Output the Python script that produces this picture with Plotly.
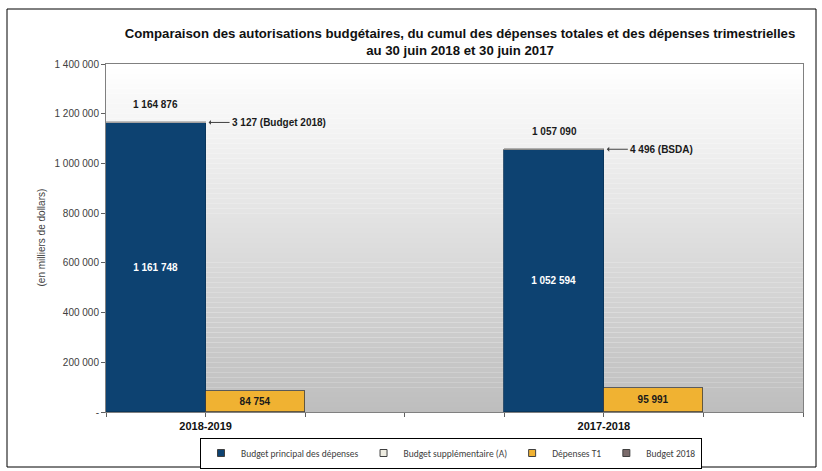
#!/usr/bin/env python3
# -*- coding: utf-8 -*-
"""Budget authorities vs Q1 spending, 2018-2019 and 2017-2018"""

import plotly.graph_objects as go

# data (en milliers de dollars)
categories = ["2018-2019", "2017-2018"]
budget_principal = [1161748, 1052594]
budget_supp = [0, 4496]
budget_2018 = [3127, 0]
depenses_t1 = [84754, 95991]
totals = [1164876, 1057090]
note_labels = ["3 127 (Budget 2018)", "4 496 (BSDA)"]

y_ticks = [0, 200000, 400000, 600000, 800000, 1000000, 1200000, 1400000]


def fmt(v):
    """French style thousands separator"""
    return f"{v:,}".replace(",", " ")


# each year takes 4 slots: principal bar, T1 bar, then 2 empty slots
x_main = [i * 4 + 0.5 for i in range(len(categories))]
x_t1 = [i * 4 + 1.5 for i in range(len(categories))]

FONT = "Liberation Sans, Arial, sans-serif"
LEG_FONT = "Carlito, Lato, Liberation Sans, sans-serif"
W, H = 822, 471

series = [
    # name, x, y, fill, edge, label colour
    ("Budget principal des dépenses", x_main, budget_principal, "#0d4271", "#0a3358", "white"),
    ("Budget supplémentaire (A)", x_main, budget_supp, "#eeece1", "#6f6f6f", None),
    ("Dépenses T1", x_t1, depenses_t1, "#f0b232", "#404040", "#1a1a1a"),
    ("Budget 2018", x_main, budget_2018, "#7b6b6b", "#b0b0b0", None),
]

fig = go.Figure()

for name, xs, ys, fill, edge, lab in series:
    bar = go.Bar(x=xs, y=ys, width=1, name=name, showlegend=False,
                 marker=dict(color=fill, line=dict(color=edge, width=0.8)),
                 hoverinfo="skip")
    if lab:
        bar.update(text=[fmt(v) for v in ys], textposition="inside",
                   insidetextanchor="middle",
                   textfont=dict(color=lab, size=10, family=FONT, weight="bold"))
    else:
        bar.update(textposition="none")
    fig.add_trace(bar)

# small square legend keys like the original
for name, xs, ys, fill, edge, lab in series:
    fig.add_trace(go.Scatter(x=[None], y=[None], mode="markers", name=name,
                             marker=dict(symbol="square", size=7, color=fill,
                                         line=dict(color="#404040", width=1)),
                             hoverinfo="skip"))

# totals above the bars and arrow notes on the right edge
for i in range(len(categories)):
    fig.add_annotation(x=x_main[i], y=totals[i], text="<b>" + fmt(totals[i]) + "</b>",
                       showarrow=False, yshift=18,
                       font=dict(size=10, family=FONT, color="#1a1a1a"))
    fig.add_annotation(x=x_main[i] + 0.53, y=totals[i], text="<b>" + note_labels[i] + "</b>",
                       showarrow=True, ax=21, ay=0, xanchor="left",
                       arrowhead=1, arrowsize=0.8, arrowwidth=1, arrowcolor="#404040",
                       font=dict(size=10, family=FONT, color="#1a1a1a"))

# y axis title
fig.add_annotation(x=(33 - 106) / 697, y=0.5, xref="paper", yref="paper",
                   text="(en milliers de dollars)", textangle=-90, showarrow=False,
                   font=dict(size=10, family=FONT, color="#404040"))

# gradient background of the plot area (white on top, grey at the bottom)
n_bands = 70
for k in range(n_bands):
    t = k / (n_bands - 1)
    c = int(round(255 - (255 - 190) * t))
    fig.add_shape(type="rect", xref="x domain", yref="y domain",
                  x0=0, x1=1, y0=1 - (k + 1) / n_bands, y1=1 - k / n_bands,
                  fillcolor=f"rgb({c},{c},{c})", line=dict(width=0), layer="below")

# outer frame
fig.add_shape(type="rect", xref="paper", yref="paper",
              x0=(7 - 106) / 697, x1=(816 - 106) / 697,
              y0=(412 - 467) / 348, y1=(412 - 9) / 348,
              line=dict(color="black", width=1))

fig.update_xaxes(range=[0, 7], tickvals=list(range(8)),
                 ticktext=["", "<b>" + categories[0] + "</b>", "", "", "",
                           "<b>" + categories[1] + "</b>", "", ""],
                 ticks="outside", ticklen=4, tickcolor="#606060",
                 showline=True, linecolor="#808080", mirror=True,
                 showgrid=False, zeroline=False, fixedrange=True, automargin=False,
                 tickfont=dict(size=11, family=FONT, color="#111111"))
fig.update_yaxes(range=[0, 1400000], tickvals=y_ticks,
                 ticktext=["-"] + [fmt(v) for v in y_ticks[1:]],
                 ticks="outside", ticklen=4, tickcolor="#606060",
                 showline=True, linecolor="#808080", mirror=True,
                 showgrid=False, zeroline=False, fixedrange=True, automargin=False,
                 tickfont=dict(size=10, family=FONT, color="#404040"))

fig.update_layout(
    width=W, height=H,
    margin=dict(l=106, r=19, t=64, b=59, autoexpand=False),
    barmode="stack", bargap=0,
    paper_bgcolor="white", plot_bgcolor="rgba(0,0,0,0)",
    title=dict(text="<b>Comparaison des autorisations budgétaires, du cumul des dépenses totales et des dépenses trimestrielles<br>au 30 juin 2018 et 30 juin 2017</b>",
               xref="container", yref="container", x=460 / W, y=1 - 38 / H,
               xanchor="center", yanchor="middle",
               font=dict(size=13.2, family=FONT, color="#111111")),
    showlegend=True,
    legend=dict(orientation="h", xref="container", yref="container",
                x=451 / W, y=1 - 453 / H,
                xanchor="center", yanchor="middle", traceorder="normal",
                bordercolor="black", borderwidth=1, bgcolor="white",
                font=dict(size=9.5, family=LEG_FONT, color="#404040"),
                itemwidth=30, tracegroupgap=0),
)

fig.write_html("out.html", config={"displayModeBar": False},
               post_script="document.body.style.margin='0';")
